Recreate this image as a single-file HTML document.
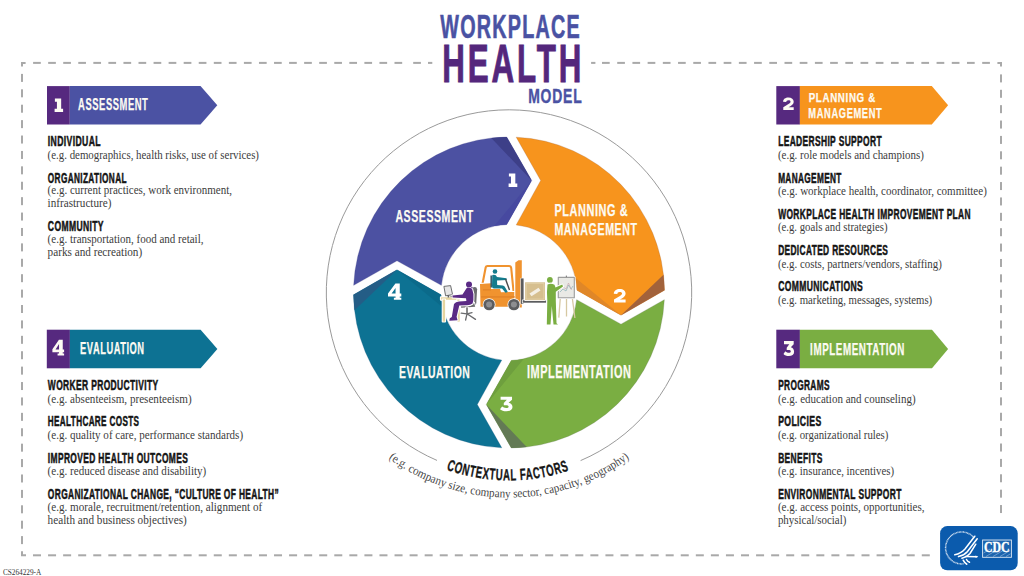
<!DOCTYPE html>
<html><head><meta charset="utf-8"><style>
html,body{margin:0;padding:0;background:#fff;width:1024px;height:576px;overflow:hidden}
svg{display:block}
</style></head><body>
<svg width="1024" height="576" viewBox="0 0 1024 576">
<rect width="1024" height="576" fill="#fff"/>
<path d="M21.0,66.5 V61.9 H25.6 V63.9 H23.0 V66.5 Z" fill="#a9a9a9"/>
<path d="M1002.0,66.5 V61.9 H997.4 V63.9 H1000.0 V66.5 Z" fill="#a9a9a9"/>
<path d="M21.0,551.3 V556.3 H26.0 V554.3 H23.0 V551.3 Z" fill="#a9a9a9"/>
<rect x="33.10" y="61.90" width="7.70" height="2" fill="#a9a9a9"/>
<rect x="48.16" y="61.90" width="7.70" height="2" fill="#a9a9a9"/>
<rect x="63.22" y="61.90" width="7.70" height="2" fill="#a9a9a9"/>
<rect x="78.27" y="61.90" width="7.70" height="2" fill="#a9a9a9"/>
<rect x="93.33" y="61.90" width="7.70" height="2" fill="#a9a9a9"/>
<rect x="108.39" y="61.90" width="7.70" height="2" fill="#a9a9a9"/>
<rect x="123.45" y="61.90" width="7.70" height="2" fill="#a9a9a9"/>
<rect x="138.51" y="61.90" width="7.70" height="2" fill="#a9a9a9"/>
<rect x="153.56" y="61.90" width="7.70" height="2" fill="#a9a9a9"/>
<rect x="168.62" y="61.90" width="7.70" height="2" fill="#a9a9a9"/>
<rect x="183.68" y="61.90" width="7.70" height="2" fill="#a9a9a9"/>
<rect x="198.74" y="61.90" width="7.70" height="2" fill="#a9a9a9"/>
<rect x="213.80" y="61.90" width="7.70" height="2" fill="#a9a9a9"/>
<rect x="228.85" y="61.90" width="7.70" height="2" fill="#a9a9a9"/>
<rect x="243.91" y="61.90" width="7.70" height="2" fill="#a9a9a9"/>
<rect x="258.97" y="61.90" width="7.70" height="2" fill="#a9a9a9"/>
<rect x="274.03" y="61.90" width="7.70" height="2" fill="#a9a9a9"/>
<rect x="289.09" y="61.90" width="7.70" height="2" fill="#a9a9a9"/>
<rect x="304.14" y="61.90" width="7.70" height="2" fill="#a9a9a9"/>
<rect x="319.20" y="61.90" width="7.70" height="2" fill="#a9a9a9"/>
<rect x="334.26" y="61.90" width="7.70" height="2" fill="#a9a9a9"/>
<rect x="349.32" y="61.90" width="7.70" height="2" fill="#a9a9a9"/>
<rect x="364.38" y="61.90" width="7.70" height="2" fill="#a9a9a9"/>
<rect x="379.43" y="61.90" width="7.70" height="2" fill="#a9a9a9"/>
<rect x="394.49" y="61.90" width="7.70" height="2" fill="#a9a9a9"/>
<rect x="413.20" y="61.90" width="7.70" height="2" fill="#a9a9a9"/>
<rect x="428.00" y="61.90" width="4.30" height="2" fill="#a9a9a9"/>
<rect x="591.10" y="61.90" width="4.30" height="2" fill="#a9a9a9"/>
<rect x="602.00" y="61.90" width="7.70" height="2" fill="#a9a9a9"/>
<rect x="617.21" y="61.90" width="7.70" height="2" fill="#a9a9a9"/>
<rect x="632.42" y="61.90" width="7.70" height="2" fill="#a9a9a9"/>
<rect x="647.62" y="61.90" width="7.70" height="2" fill="#a9a9a9"/>
<rect x="662.83" y="61.90" width="7.70" height="2" fill="#a9a9a9"/>
<rect x="678.04" y="61.90" width="7.70" height="2" fill="#a9a9a9"/>
<rect x="693.25" y="61.90" width="7.70" height="2" fill="#a9a9a9"/>
<rect x="708.46" y="61.90" width="7.70" height="2" fill="#a9a9a9"/>
<rect x="723.66" y="61.90" width="7.70" height="2" fill="#a9a9a9"/>
<rect x="738.87" y="61.90" width="7.70" height="2" fill="#a9a9a9"/>
<rect x="754.08" y="61.90" width="7.70" height="2" fill="#a9a9a9"/>
<rect x="769.29" y="61.90" width="7.70" height="2" fill="#a9a9a9"/>
<rect x="784.50" y="61.90" width="7.70" height="2" fill="#a9a9a9"/>
<rect x="799.70" y="61.90" width="7.70" height="2" fill="#a9a9a9"/>
<rect x="814.91" y="61.90" width="7.70" height="2" fill="#a9a9a9"/>
<rect x="830.12" y="61.90" width="7.70" height="2" fill="#a9a9a9"/>
<rect x="845.33" y="61.90" width="7.70" height="2" fill="#a9a9a9"/>
<rect x="860.54" y="61.90" width="7.70" height="2" fill="#a9a9a9"/>
<rect x="875.74" y="61.90" width="7.70" height="2" fill="#a9a9a9"/>
<rect x="890.95" y="61.90" width="7.70" height="2" fill="#a9a9a9"/>
<rect x="906.16" y="61.90" width="7.70" height="2" fill="#a9a9a9"/>
<rect x="921.37" y="61.90" width="7.70" height="2" fill="#a9a9a9"/>
<rect x="936.58" y="61.90" width="7.70" height="2" fill="#a9a9a9"/>
<rect x="951.78" y="61.90" width="7.70" height="2" fill="#a9a9a9"/>
<rect x="966.99" y="61.90" width="7.70" height="2" fill="#a9a9a9"/>
<rect x="982.20" y="61.90" width="7.70" height="2" fill="#a9a9a9"/>
<rect x="33.00" y="554.30" width="8.00" height="2" fill="#a9a9a9"/>
<rect x="48.06" y="554.30" width="8.00" height="2" fill="#a9a9a9"/>
<rect x="63.13" y="554.30" width="8.00" height="2" fill="#a9a9a9"/>
<rect x="78.19" y="554.30" width="8.00" height="2" fill="#a9a9a9"/>
<rect x="93.26" y="554.30" width="8.00" height="2" fill="#a9a9a9"/>
<rect x="108.32" y="554.30" width="8.00" height="2" fill="#a9a9a9"/>
<rect x="123.38" y="554.30" width="8.00" height="2" fill="#a9a9a9"/>
<rect x="138.45" y="554.30" width="8.00" height="2" fill="#a9a9a9"/>
<rect x="153.51" y="554.30" width="8.00" height="2" fill="#a9a9a9"/>
<rect x="168.58" y="554.30" width="8.00" height="2" fill="#a9a9a9"/>
<rect x="183.64" y="554.30" width="8.00" height="2" fill="#a9a9a9"/>
<rect x="198.70" y="554.30" width="8.00" height="2" fill="#a9a9a9"/>
<rect x="213.77" y="554.30" width="8.00" height="2" fill="#a9a9a9"/>
<rect x="228.83" y="554.30" width="8.00" height="2" fill="#a9a9a9"/>
<rect x="243.90" y="554.30" width="8.00" height="2" fill="#a9a9a9"/>
<rect x="258.96" y="554.30" width="8.00" height="2" fill="#a9a9a9"/>
<rect x="274.02" y="554.30" width="8.00" height="2" fill="#a9a9a9"/>
<rect x="289.09" y="554.30" width="8.00" height="2" fill="#a9a9a9"/>
<rect x="304.15" y="554.30" width="8.00" height="2" fill="#a9a9a9"/>
<rect x="319.22" y="554.30" width="8.00" height="2" fill="#a9a9a9"/>
<rect x="334.28" y="554.30" width="8.00" height="2" fill="#a9a9a9"/>
<rect x="349.34" y="554.30" width="8.00" height="2" fill="#a9a9a9"/>
<rect x="364.41" y="554.30" width="8.00" height="2" fill="#a9a9a9"/>
<rect x="379.47" y="554.30" width="8.00" height="2" fill="#a9a9a9"/>
<rect x="394.54" y="554.30" width="8.00" height="2" fill="#a9a9a9"/>
<rect x="409.60" y="554.30" width="8.00" height="2" fill="#a9a9a9"/>
<rect x="424.66" y="554.30" width="8.00" height="2" fill="#a9a9a9"/>
<rect x="439.73" y="554.30" width="8.00" height="2" fill="#a9a9a9"/>
<rect x="454.79" y="554.30" width="8.00" height="2" fill="#a9a9a9"/>
<rect x="469.86" y="554.30" width="8.00" height="2" fill="#a9a9a9"/>
<rect x="484.92" y="554.30" width="8.00" height="2" fill="#a9a9a9"/>
<rect x="499.98" y="554.30" width="8.00" height="2" fill="#a9a9a9"/>
<rect x="515.05" y="554.30" width="8.00" height="2" fill="#a9a9a9"/>
<rect x="530.11" y="554.30" width="8.00" height="2" fill="#a9a9a9"/>
<rect x="545.18" y="554.30" width="8.00" height="2" fill="#a9a9a9"/>
<rect x="560.24" y="554.30" width="8.00" height="2" fill="#a9a9a9"/>
<rect x="575.30" y="554.30" width="8.00" height="2" fill="#a9a9a9"/>
<rect x="590.37" y="554.30" width="8.00" height="2" fill="#a9a9a9"/>
<rect x="605.43" y="554.30" width="8.00" height="2" fill="#a9a9a9"/>
<rect x="620.50" y="554.30" width="8.00" height="2" fill="#a9a9a9"/>
<rect x="635.56" y="554.30" width="8.00" height="2" fill="#a9a9a9"/>
<rect x="650.62" y="554.30" width="8.00" height="2" fill="#a9a9a9"/>
<rect x="665.69" y="554.30" width="8.00" height="2" fill="#a9a9a9"/>
<rect x="680.75" y="554.30" width="8.00" height="2" fill="#a9a9a9"/>
<rect x="695.82" y="554.30" width="8.00" height="2" fill="#a9a9a9"/>
<rect x="710.88" y="554.30" width="8.00" height="2" fill="#a9a9a9"/>
<rect x="725.94" y="554.30" width="8.00" height="2" fill="#a9a9a9"/>
<rect x="741.01" y="554.30" width="8.00" height="2" fill="#a9a9a9"/>
<rect x="756.07" y="554.30" width="8.00" height="2" fill="#a9a9a9"/>
<rect x="771.14" y="554.30" width="8.00" height="2" fill="#a9a9a9"/>
<rect x="786.20" y="554.30" width="8.00" height="2" fill="#a9a9a9"/>
<rect x="801.26" y="554.30" width="8.00" height="2" fill="#a9a9a9"/>
<rect x="816.33" y="554.30" width="8.00" height="2" fill="#a9a9a9"/>
<rect x="831.39" y="554.30" width="8.00" height="2" fill="#a9a9a9"/>
<rect x="846.46" y="554.30" width="8.00" height="2" fill="#a9a9a9"/>
<rect x="861.52" y="554.30" width="8.00" height="2" fill="#a9a9a9"/>
<rect x="876.58" y="554.30" width="8.00" height="2" fill="#a9a9a9"/>
<rect x="891.65" y="554.30" width="8.00" height="2" fill="#a9a9a9"/>
<rect x="906.71" y="554.30" width="8.00" height="2" fill="#a9a9a9"/>
<rect x="921.78" y="554.30" width="8.00" height="2" fill="#a9a9a9"/>
<rect x="21.00" y="73.90" width="2" height="8.00" fill="#a9a9a9"/>
<rect x="21.00" y="89.31" width="2" height="8.00" fill="#a9a9a9"/>
<rect x="21.00" y="104.71" width="2" height="8.00" fill="#a9a9a9"/>
<rect x="21.00" y="120.12" width="2" height="8.00" fill="#a9a9a9"/>
<rect x="21.00" y="135.53" width="2" height="8.00" fill="#a9a9a9"/>
<rect x="21.00" y="150.94" width="2" height="8.00" fill="#a9a9a9"/>
<rect x="21.00" y="166.34" width="2" height="8.00" fill="#a9a9a9"/>
<rect x="21.00" y="181.75" width="2" height="8.00" fill="#a9a9a9"/>
<rect x="21.00" y="197.16" width="2" height="8.00" fill="#a9a9a9"/>
<rect x="21.00" y="212.56" width="2" height="8.00" fill="#a9a9a9"/>
<rect x="21.00" y="227.97" width="2" height="8.00" fill="#a9a9a9"/>
<rect x="21.00" y="243.38" width="2" height="8.00" fill="#a9a9a9"/>
<rect x="21.00" y="258.78" width="2" height="8.00" fill="#a9a9a9"/>
<rect x="21.00" y="274.19" width="2" height="8.00" fill="#a9a9a9"/>
<rect x="21.00" y="289.60" width="2" height="8.00" fill="#a9a9a9"/>
<rect x="21.00" y="305.00" width="2" height="8.00" fill="#a9a9a9"/>
<rect x="21.00" y="320.41" width="2" height="8.00" fill="#a9a9a9"/>
<rect x="21.00" y="335.82" width="2" height="8.00" fill="#a9a9a9"/>
<rect x="21.00" y="351.23" width="2" height="8.00" fill="#a9a9a9"/>
<rect x="21.00" y="366.63" width="2" height="8.00" fill="#a9a9a9"/>
<rect x="21.00" y="382.04" width="2" height="8.00" fill="#a9a9a9"/>
<rect x="21.00" y="397.45" width="2" height="8.00" fill="#a9a9a9"/>
<rect x="21.00" y="412.85" width="2" height="8.00" fill="#a9a9a9"/>
<rect x="21.00" y="428.26" width="2" height="8.00" fill="#a9a9a9"/>
<rect x="21.00" y="443.67" width="2" height="8.00" fill="#a9a9a9"/>
<rect x="21.00" y="459.08" width="2" height="8.00" fill="#a9a9a9"/>
<rect x="21.00" y="474.48" width="2" height="8.00" fill="#a9a9a9"/>
<rect x="21.00" y="489.89" width="2" height="8.00" fill="#a9a9a9"/>
<rect x="21.00" y="505.30" width="2" height="8.00" fill="#a9a9a9"/>
<rect x="21.00" y="520.70" width="2" height="8.00" fill="#a9a9a9"/>
<rect x="21.00" y="536.11" width="2" height="8.00" fill="#a9a9a9"/>
<rect x="1000.00" y="74.40" width="2" height="8.00" fill="#a9a9a9"/>
<rect x="1000.00" y="89.78" width="2" height="8.00" fill="#a9a9a9"/>
<rect x="1000.00" y="105.16" width="2" height="8.00" fill="#a9a9a9"/>
<rect x="1000.00" y="120.54" width="2" height="8.00" fill="#a9a9a9"/>
<rect x="1000.00" y="135.92" width="2" height="8.00" fill="#a9a9a9"/>
<rect x="1000.00" y="151.30" width="2" height="8.00" fill="#a9a9a9"/>
<rect x="1000.00" y="166.68" width="2" height="8.00" fill="#a9a9a9"/>
<rect x="1000.00" y="182.06" width="2" height="8.00" fill="#a9a9a9"/>
<rect x="1000.00" y="197.44" width="2" height="8.00" fill="#a9a9a9"/>
<rect x="1000.00" y="212.82" width="2" height="8.00" fill="#a9a9a9"/>
<rect x="1000.00" y="228.20" width="2" height="8.00" fill="#a9a9a9"/>
<rect x="1000.00" y="243.58" width="2" height="8.00" fill="#a9a9a9"/>
<rect x="1000.00" y="258.96" width="2" height="8.00" fill="#a9a9a9"/>
<rect x="1000.00" y="274.34" width="2" height="8.00" fill="#a9a9a9"/>
<rect x="1000.00" y="289.72" width="2" height="8.00" fill="#a9a9a9"/>
<rect x="1000.00" y="305.10" width="2" height="8.00" fill="#a9a9a9"/>
<rect x="1000.00" y="320.48" width="2" height="8.00" fill="#a9a9a9"/>
<rect x="1000.00" y="335.86" width="2" height="8.00" fill="#a9a9a9"/>
<rect x="1000.00" y="351.24" width="2" height="8.00" fill="#a9a9a9"/>
<rect x="1000.00" y="366.62" width="2" height="8.00" fill="#a9a9a9"/>
<rect x="1000.00" y="382.00" width="2" height="8.00" fill="#a9a9a9"/>
<rect x="1000.00" y="397.38" width="2" height="8.00" fill="#a9a9a9"/>
<rect x="1000.00" y="412.76" width="2" height="8.00" fill="#a9a9a9"/>
<rect x="1000.00" y="428.14" width="2" height="8.00" fill="#a9a9a9"/>
<rect x="1000.00" y="443.52" width="2" height="8.00" fill="#a9a9a9"/>
<rect x="1000.00" y="458.90" width="2" height="8.00" fill="#a9a9a9"/>
<rect x="1000.00" y="474.28" width="2" height="8.00" fill="#a9a9a9"/>
<rect x="1000.00" y="489.66" width="2" height="8.00" fill="#a9a9a9"/>
<rect x="1000.00" y="505.04" width="2" height="8.00" fill="#a9a9a9"/>
<text x="440.30" y="37.50" font-family='"Liberation Sans", sans-serif' font-weight="bold" font-size="32.30" fill="#4a52a3" stroke="#4a52a3" stroke-width="0.6" textLength="140.50" lengthAdjust="spacingAndGlyphs" letter-spacing="2.0" >WORKPLACE</text>
<text x="442.30" y="82.00" font-family='"Liberation Sans", sans-serif' font-weight="bold" font-size="54.27" fill="#54277c" stroke="#54277c" stroke-width="1.0" textLength="141.90" lengthAdjust="spacingAndGlyphs" letter-spacing="5.0" >HEALTH</text>
<text x="528.20" y="102.90" font-family='"Liberation Sans", sans-serif' font-weight="bold" font-size="20.66" fill="#4a52a3" stroke="#4a52a3" stroke-width="0.4" textLength="54.30" lengthAdjust="spacingAndGlyphs" letter-spacing="1.2" >MODEL</text>
<rect x="47.00" y="86.10" width="22.80" height="38.40" fill="#56297f"/>
<path d="M69.80,86.10 H200.50 L217.30,105.30 L200.50,124.50 H69.80 Z" fill="#4b52a3"/>
<rect x="46.80" y="329.70" width="23.10" height="38.60" fill="#56297f"/>
<path d="M69.90,329.70 H200.60 L217.40,349.00 L200.60,368.30 H69.90 Z" fill="#0d7293"/>
<rect x="776.30" y="86.10" width="23.60" height="38.40" fill="#56297f"/>
<path d="M799.90,86.10 H931.80 L948.10,105.30 L931.80,124.50 H799.90 Z" fill="#f7941d"/>
<rect x="776.30" y="329.70" width="23.60" height="38.60" fill="#56297f"/>
<path d="M799.90,329.70 H932.00 L948.10,349.00 L932.00,368.30 H799.90 Z" fill="#7aae42"/>
<path transform="translate(54.60,98.60) scale(0.9659,0.9643)" d="M0.3,0 H6.8 V10.6 H8.8 V14 H0 V10.6 H2.4 V3.2 H0.3 Z" fill="#fdfbf3" fill-rule="evenodd"/>
<text x="78.12" y="110.47" font-family='"Liberation Sans", sans-serif' font-weight="bold" font-size="15.78" fill="#fdfbf3" stroke="#fdfbf3" stroke-width="0.25" textLength="70.25" lengthAdjust="spacingAndGlyphs" letter-spacing="0.9" >ASSESSMENT</text>
<path transform="translate(52.40,339.70) scale(1.1250,1.1214)" d="M5.8,0 H9.2 V8.7 H10.4 V11.2 H9.2 V12.3 H10.4 V14 H4.6 V12.3 H5.9 V11.2 H0 V8.6 Z M5.9,3.9 L2.8,8.7 H5.9 Z" fill="#fdfbf3" fill-rule="evenodd"/>
<text x="80.12" y="353.98" font-family='"Liberation Sans", sans-serif' font-weight="bold" font-size="15.64" fill="#fdfbf3" stroke="#fdfbf3" stroke-width="0.25" textLength="64.45" lengthAdjust="spacingAndGlyphs" letter-spacing="0.9" >EVALUATION</text>
<path transform="translate(783.10,97.50) scale(0.8833,0.8857)" d="M0,4.9 C0,1.7 2.7,0 6.0,0 C9.6,0 12,1.8 12,4.8 C12,7.2 10.4,8.5 8.2,9.9 L6.2,11.0 H12 V14 H0.2 V11.0 L6.6,7.0 C7.9,6.2 8.4,5.7 8.4,4.8 C8.4,3.7 7.5,3.2 6.0,3.2 C4.4,3.2 3.6,4.0 3.6,5.2 Z" fill="#fdfbf3" fill-rule="evenodd"/>
<text x="808.73" y="101.88" font-family='"Liberation Sans", sans-serif' font-weight="bold" font-size="13.60" fill="#fdfbf3" stroke="#fdfbf3" stroke-width="0.25" textLength="67.15" lengthAdjust="spacingAndGlyphs" letter-spacing="0.9" >PLANNING &amp;</text>
<text x="808.33" y="118.08" font-family='"Liberation Sans", sans-serif' font-weight="bold" font-size="13.75" fill="#fdfbf3" stroke="#fdfbf3" stroke-width="0.25" textLength="74.05" lengthAdjust="spacingAndGlyphs" letter-spacing="0.9" >MANAGEMENT</text>
<path transform="translate(783.50,341.10) scale(1.0000,1.0714)" d="M0.5,0 H10.2 V2.9 L7.3,5.8 C9.3,6.3 10.6,7.9 10.6,9.9 C10.6,12.6 8.4,14 5.4,14 C3.1,14 1.1,13.2 0,12.0 L1.8,9.5 C2.7,10.4 3.9,10.9 5.2,10.9 C6.5,10.9 7.3,10.4 7.3,9.6 C7.3,8.8 6.4,8.3 4.8,8.3 H3.2 V6.2 L5.8,3.0 H0.5 Z" fill="#fdfbf3" fill-rule="evenodd"/>
<text x="810.12" y="354.68" font-family='"Liberation Sans", sans-serif' font-weight="bold" font-size="15.93" fill="#fdfbf3" stroke="#fdfbf3" stroke-width="0.25" textLength="94.75" lengthAdjust="spacingAndGlyphs" letter-spacing="0.9" >IMPLEMENTATION</text>
<text x="47.85" y="146.15" font-family='"Liberation Sans", sans-serif' font-weight="bold" font-size="13.83" fill="#141414" stroke="#141414" stroke-width="0.5" textLength="53.10" lengthAdjust="spacingAndGlyphs" letter-spacing="0.6" >INDIVIDUAL</text>
<text x="47.85" y="182.55" font-family='"Liberation Sans", sans-serif' font-weight="bold" font-size="13.83" fill="#141414" stroke="#141414" stroke-width="0.5" textLength="79.00" lengthAdjust="spacingAndGlyphs" letter-spacing="0.6" >ORGANIZATIONAL</text>
<text x="47.85" y="231.15" font-family='"Liberation Sans", sans-serif' font-weight="bold" font-size="13.83" fill="#141414" stroke="#141414" stroke-width="0.5" textLength="56.10" lengthAdjust="spacingAndGlyphs" letter-spacing="0.6" >COMMUNITY</text>
<text x="47.85" y="389.95" font-family='"Liberation Sans", sans-serif' font-weight="bold" font-size="13.83" fill="#141414" stroke="#141414" stroke-width="0.5" textLength="110.60" lengthAdjust="spacingAndGlyphs" letter-spacing="0.6" >WORKER PRODUCTIVITY</text>
<text x="47.85" y="426.35" font-family='"Liberation Sans", sans-serif' font-weight="bold" font-size="13.83" fill="#141414" stroke="#141414" stroke-width="0.5" textLength="91.50" lengthAdjust="spacingAndGlyphs" letter-spacing="0.6" >HEALTHCARE COSTS</text>
<text x="47.85" y="462.85" font-family='"Liberation Sans", sans-serif' font-weight="bold" font-size="13.83" fill="#141414" stroke="#141414" stroke-width="0.5" textLength="140.30" lengthAdjust="spacingAndGlyphs" letter-spacing="0.6" >IMPROVED HEALTH OUTCOMES</text>
<text x="47.85" y="499.45" font-family='"Liberation Sans", sans-serif' font-weight="bold" font-size="13.83" fill="#141414" stroke="#141414" stroke-width="0.5" textLength="231.20" lengthAdjust="spacingAndGlyphs" letter-spacing="0.6" >ORGANIZATIONAL CHANGE, “CULTURE OF HEALTH”</text>
<text x="47.60" y="158.80" font-family='"Liberation Serif", serif' font-size="11.50" fill="#3c3c3c" textLength="211.40" lengthAdjust="spacingAndGlyphs">(e.g. demographics, health risks, use of services)</text>
<text x="47.60" y="194.20" font-family='"Liberation Serif", serif' font-size="11.50" fill="#3c3c3c" textLength="184.40" lengthAdjust="spacingAndGlyphs">(e.g. current practices, work environment,</text>
<text x="47.60" y="206.80" font-family='"Liberation Serif", serif' font-size="11.50" fill="#3c3c3c" textLength="63.80" lengthAdjust="spacingAndGlyphs">infrastructure)</text>
<text x="47.60" y="243.40" font-family='"Liberation Serif", serif' font-size="11.50" fill="#3c3c3c" textLength="155.90" lengthAdjust="spacingAndGlyphs">(e.g. transportation, food and retail,</text>
<text x="47.60" y="256.40" font-family='"Liberation Serif", serif' font-size="11.50" fill="#3c3c3c" textLength="94.60" lengthAdjust="spacingAndGlyphs">parks and recreation)</text>
<text x="47.60" y="402.80" font-family='"Liberation Serif", serif' font-size="11.50" fill="#3c3c3c" textLength="144.00" lengthAdjust="spacingAndGlyphs">(e.g. absenteeism, presenteeism)</text>
<text x="47.60" y="439.00" font-family='"Liberation Serif", serif' font-size="11.50" fill="#3c3c3c" textLength="195.50" lengthAdjust="spacingAndGlyphs">(e.g. quality of care, performance standards)</text>
<text x="47.60" y="475.10" font-family='"Liberation Serif", serif' font-size="11.50" fill="#3c3c3c" textLength="158.70" lengthAdjust="spacingAndGlyphs">(e.g. reduced disease and disability)</text>
<text x="47.60" y="511.40" font-family='"Liberation Serif", serif' font-size="11.50" fill="#3c3c3c" textLength="214.60" lengthAdjust="spacingAndGlyphs">(e.g. morale, recruitment/retention, alignment of</text>
<text x="47.60" y="524.10" font-family='"Liberation Serif", serif' font-size="11.50" fill="#3c3c3c" textLength="139.20" lengthAdjust="spacingAndGlyphs">health and business objectives)</text>
<text x="778.15" y="146.05" font-family='"Liberation Sans", sans-serif' font-weight="bold" font-size="13.83" fill="#141414" stroke="#141414" stroke-width="0.5" textLength="103.80" lengthAdjust="spacingAndGlyphs" letter-spacing="0.6" >LEADERSHIP SUPPORT</text>
<text x="778.15" y="182.65" font-family='"Liberation Sans", sans-serif' font-weight="bold" font-size="13.83" fill="#141414" stroke="#141414" stroke-width="0.5" textLength="63.60" lengthAdjust="spacingAndGlyphs" letter-spacing="0.6" >MANAGEMENT</text>
<text x="778.15" y="218.65" font-family='"Liberation Sans", sans-serif' font-weight="bold" font-size="13.83" fill="#141414" stroke="#141414" stroke-width="0.5" textLength="192.80" lengthAdjust="spacingAndGlyphs" letter-spacing="0.6" >WORKPLACE HEALTH IMPROVEMENT PLAN</text>
<text x="778.15" y="255.35" font-family='"Liberation Sans", sans-serif' font-weight="bold" font-size="13.83" fill="#141414" stroke="#141414" stroke-width="0.5" textLength="110.10" lengthAdjust="spacingAndGlyphs" letter-spacing="0.6" >DEDICATED RESOURCES</text>
<text x="778.15" y="291.25" font-family='"Liberation Sans", sans-serif' font-weight="bold" font-size="13.83" fill="#141414" stroke="#141414" stroke-width="0.5" textLength="85.00" lengthAdjust="spacingAndGlyphs" letter-spacing="0.6" >COMMUNICATIONS</text>
<text x="778.15" y="390.05" font-family='"Liberation Sans", sans-serif' font-weight="bold" font-size="13.83" fill="#141414" stroke="#141414" stroke-width="0.5" textLength="51.70" lengthAdjust="spacingAndGlyphs" letter-spacing="0.6" >PROGRAMS</text>
<text x="778.15" y="426.45" font-family='"Liberation Sans", sans-serif' font-weight="bold" font-size="13.83" fill="#141414" stroke="#141414" stroke-width="0.5" textLength="43.40" lengthAdjust="spacingAndGlyphs" letter-spacing="0.6" >POLICIES</text>
<text x="778.15" y="462.75" font-family='"Liberation Sans", sans-serif' font-weight="bold" font-size="13.83" fill="#141414" stroke="#141414" stroke-width="0.5" textLength="44.50" lengthAdjust="spacingAndGlyphs" letter-spacing="0.6" >BENEFITS</text>
<text x="778.15" y="499.25" font-family='"Liberation Sans", sans-serif' font-weight="bold" font-size="13.83" fill="#141414" stroke="#141414" stroke-width="0.5" textLength="123.60" lengthAdjust="spacingAndGlyphs" letter-spacing="0.6" >ENVIRONMENTAL SUPPORT</text>
<text x="777.90" y="158.80" font-family='"Liberation Serif", serif' font-size="11.50" fill="#3c3c3c" textLength="146.00" lengthAdjust="spacingAndGlyphs">(e.g. role models and champions)</text>
<text x="777.90" y="195.00" font-family='"Liberation Serif", serif' font-size="11.50" fill="#3c3c3c" textLength="208.90" lengthAdjust="spacingAndGlyphs">(e.g. workplace health, coordinator, committee)</text>
<text x="777.90" y="230.90" font-family='"Liberation Serif", serif' font-size="11.50" fill="#3c3c3c" textLength="109.60" lengthAdjust="spacingAndGlyphs">(e.g. goals and strategies)</text>
<text x="777.90" y="267.60" font-family='"Liberation Serif", serif' font-size="11.50" fill="#3c3c3c" textLength="163.90" lengthAdjust="spacingAndGlyphs">(e.g. costs, partners/vendors, staffing)</text>
<text x="777.90" y="303.50" font-family='"Liberation Serif", serif' font-size="11.50" fill="#3c3c3c" textLength="154.30" lengthAdjust="spacingAndGlyphs">(e.g. marketing, messages, systems)</text>
<text x="777.90" y="402.80" font-family='"Liberation Serif", serif' font-size="11.50" fill="#3c3c3c" textLength="137.70" lengthAdjust="spacingAndGlyphs">(e.g. education and counseling)</text>
<text x="777.90" y="439.40" font-family='"Liberation Serif", serif' font-size="11.50" fill="#3c3c3c" textLength="110.50" lengthAdjust="spacingAndGlyphs">(e.g. organizational rules)</text>
<text x="777.90" y="475.10" font-family='"Liberation Serif", serif' font-size="11.50" fill="#3c3c3c" textLength="116.10" lengthAdjust="spacingAndGlyphs">(e.g. insurance, incentives)</text>
<text x="777.90" y="511.00" font-family='"Liberation Serif", serif' font-size="11.50" fill="#3c3c3c" textLength="146.60" lengthAdjust="spacingAndGlyphs">(e.g. access points, opportunities,</text>
<text x="777.90" y="524.10" font-family='"Liberation Serif", serif' font-size="11.50" fill="#3c3c3c" textLength="68.50" lengthAdjust="spacingAndGlyphs">physical/social)</text>
<text x="2.9" y="575" font-family='"Liberation Serif", serif' font-size="8" fill="#333" textLength="38.4" lengthAdjust="spacingAndGlyphs">CS264229-A</text>
<path d="M353.67,285.30 A155.5,155.5 0 0 1 506.70,137.02 L531.70,180.50 L506.70,224.54 A68.0,68.0 0 0 0 441.38,285.30 L397.00,260.80 Z" fill="#4c51a2" stroke="#3d3f88" stroke-opacity="0.55" stroke-width="0.5"/>
<path d="M491.30,138.01 A155.5,155.5 0 0 1 506.70,137.02 L531.70,180.50 Z" fill="#3d3f88"/>
<path d="M494.30,226.11 L531.70,180.50 L506.70,224.54 A68.0,68.0 0 0 0 494.30,226.11 Z" fill="#4749a0"/>
<path d="M516.20,137.17 A155.5,155.5 0 0 1 664.48,290.20 L621.00,315.20 L576.96,290.20 A68.0,68.0 0 0 0 516.20,224.88 L540.70,180.50 Z" fill="#f7941d" stroke="#a2623b" stroke-opacity="0.55" stroke-width="0.5"/>
<path d="M663.49,274.80 A155.5,155.5 0 0 1 664.48,290.20 L621.00,315.20 Z" fill="#a2623b"/>
<path d="M575.39,277.80 L621.00,315.20 L576.96,290.20 A68.0,68.0 0 0 0 575.39,277.80 Z" fill="#e08728"/>
<path d="M664.33,299.70 A155.5,155.5 0 0 1 511.30,447.98 L486.30,404.50 L511.30,360.46 A68.0,68.0 0 0 0 576.62,299.70 L621.00,324.20 Z" fill="#7aae42" stroke="#637a55" stroke-opacity="0.55" stroke-width="0.5"/>
<path d="M526.70,446.99 A155.5,155.5 0 0 1 511.30,447.98 L486.30,404.50 Z" fill="#637a55"/>
<path d="M523.70,358.89 L486.30,404.50 L511.30,360.46 A68.0,68.0 0 0 0 523.70,358.89 Z" fill="#6e9f3e"/>
<path d="M501.80,447.83 A155.5,155.5 0 0 1 353.52,294.80 L397.00,269.80 L441.04,294.80 A68.0,68.0 0 0 0 501.80,360.12 L477.30,404.50 Z" fill="#0d7293" stroke="#245d86" stroke-opacity="0.55" stroke-width="0.5"/>
<path d="M354.51,310.20 A155.5,155.5 0 0 1 353.52,294.80 L397.00,269.80 Z" fill="#245d86"/>
<path d="M442.61,307.20 L397.00,269.80 L441.04,294.80 A68.0,68.0 0 0 0 442.61,307.20 Z" fill="#0b6a8a"/>
<path d="M437.00,460.41 A182.7,182.7 0 1 1 580.60,460.59" fill="none" stroke="#9a9a9a" stroke-width="1"/>
<text x="395.43" y="222.17" font-family='"Liberation Sans", sans-serif' font-weight="bold" font-size="17.38" fill="#fdfbf3" stroke="#fdfbf3" stroke-width="0.25" textLength="78.25" lengthAdjust="spacingAndGlyphs" letter-spacing="0.9" >ASSESSMENT</text>
<text x="554.42" y="215.88" font-family='"Liberation Sans", sans-serif' font-weight="bold" font-size="17.09" fill="#fdfbf3" stroke="#fdfbf3" stroke-width="0.25" textLength="73.85" lengthAdjust="spacingAndGlyphs" letter-spacing="0.9" >PLANNING &amp;</text>
<text x="554.42" y="234.67" font-family='"Liberation Sans", sans-serif' font-weight="bold" font-size="17.38" fill="#fdfbf3" stroke="#fdfbf3" stroke-width="0.25" textLength="83.15" lengthAdjust="spacingAndGlyphs" letter-spacing="0.9" >MANAGEMENT</text>
<text x="398.93" y="378.27" font-family='"Liberation Sans", sans-serif' font-weight="bold" font-size="17.38" fill="#fdfbf3" stroke="#fdfbf3" stroke-width="0.25" textLength="71.45" lengthAdjust="spacingAndGlyphs" letter-spacing="0.9" >EVALUATION</text>
<text x="526.92" y="378.28" font-family='"Liberation Sans", sans-serif' font-weight="bold" font-size="17.53" fill="#fdfbf3" stroke="#fdfbf3" stroke-width="0.25" textLength="104.55" lengthAdjust="spacingAndGlyphs" letter-spacing="0.9" >IMPLEMENTATION</text>
<path transform="translate(508.60,173.40) scale(0.9886,0.9643)" d="M0.3,0 H6.8 V10.6 H8.8 V14 H0 V10.6 H2.4 V3.2 H0.3 Z" fill="#ffffff" fill-rule="evenodd"/>
<path transform="translate(613.80,288.90) scale(0.9833,0.9714)" d="M0,4.9 C0,1.7 2.7,0 6.0,0 C9.6,0 12,1.8 12,4.8 C12,7.2 10.4,8.5 8.2,9.9 L6.2,11.0 H12 V14 H0.2 V11.0 L6.6,7.0 C7.9,6.2 8.4,5.7 8.4,4.8 C8.4,3.7 7.5,3.2 6.0,3.2 C4.4,3.2 3.6,4.0 3.6,5.2 Z" fill="#ffffff" fill-rule="evenodd"/>
<path transform="translate(500.00,396.70) scale(1.1792,1.0357)" d="M0.5,0 H10.2 V2.9 L7.3,5.8 C9.3,6.3 10.6,7.9 10.6,9.9 C10.6,12.6 8.4,14 5.4,14 C3.1,14 1.1,13.2 0,12.0 L1.8,9.5 C2.7,10.4 3.9,10.9 5.2,10.9 C6.5,10.9 7.3,10.4 7.3,9.6 C7.3,8.8 6.4,8.3 4.8,8.3 H3.2 V6.2 L5.8,3.0 H0.5 Z" fill="#ffffff" fill-rule="evenodd"/>
<path transform="translate(388.00,283.40) scale(1.2788,1.1643)" d="M5.8,0 H9.2 V8.7 H10.4 V11.2 H9.2 V12.3 H10.4 V14 H4.6 V12.3 H5.9 V11.2 H0 V8.6 Z M5.9,3.9 L2.8,8.7 H5.9 Z" fill="#ffffff" fill-rule="evenodd"/>
<defs><path id="arcC" d="M321.0,292.5 A188.0,188.0 0 0 0 697.0,292.5"/><path id="arcS" d="M303.0,292.5 A206.0,206.0 0 0 0 715.0,292.5"/></defs>
<g stroke="#fff" stroke-width="2" stroke-linejoin="round" paint-order="stroke">
<rect x="440.9" y="297.3" width="19.4" height="2.5" fill="#e6d5a0"/>
<rect x="442.7" y="299.5" width="2.4" height="22.1" fill="#e6d5a0"/>
<rect x="457.3" y="299.5" width="2.4" height="22.1" fill="#e6d5a0"/>
<path d="M443.9,286.4 L450.6,285.6 L452.6,294.6 L445.6,295.8 Z" fill="#e6e6e6" stroke-width="1.6"/>
<path d="M443.9,286.4 L450.6,285.6 L452.6,294.6 L445.6,295.8 Z" fill="none" stroke="#5f6062" stroke-width="0.9" paint-order="normal"/>
<rect x="447.6" y="295.2" width="1.6" height="2.3" fill="#5f6062" stroke-width="0"/>
<rect x="450.6" y="295.9" width="6.5" height="1.3" fill="#4a4a4c" stroke-width="0"/>
<path d="M472.4,287.6 Q476.6,286 477.1,289.2 L476.3,303 Q475.6,306.2 472.8,306.3 Z" fill="#6a6b6e"/>
<path d="M460.3,303.6 L474,302.4 L475.2,306.8 L461.2,307.7 Z" fill="#6a6b6e"/>
<rect x="466.2" y="307.4" width="1.6" height="6.4" fill="#6a6b6e"/>
<path d="M467,313.8 L461.2,313.2 M467,313.8 L465.6,320 M467,313.8 L475.5,319.4 M467,313.8 L472,312.6" fill="none" stroke="#6a6b6e" stroke-width="1.3" stroke-linecap="round" paint-order="normal"/>
<path d="M470.5,285.5 Q473.5,286.5 472.3,290 L470.8,289.6 Z" fill="#5a2a85" stroke-width="0"/>
<path d="M466.5,288.3 L472.2,289.2 Q474.2,294 473.4,300 L472.6,303.6 Q470,305.6 466,305.3 L459.3,305.5 L456.6,316.8 L457.6,320.3 L449.3,320.7 L449.8,318.3 L451.8,317.0 L454.0,304.0 Q455.6,301.5 459,301.4 L466.4,300.9 L466.0,298.3 L452.6,297.6 L452.4,295.6 L462.5,294.4 Q464.6,291.4 466.5,288.3 Z" fill="#5a2a85"/>
<circle cx="469" cy="284.5" r="3.0" fill="#5a2a85" stroke-width="1.2"/>
<path d="M467.2,287.5 L471.5,288.2 L471.8,290 L466.4,289.6 Z" fill="#5a2a85" stroke-width="0"/>
<path d="M482.3,285 L485.7,267.2 Q486,266 487.5,266 L509,266 Q511,266 511.2,268 L513.5,291" fill="none" stroke="#f0932f" stroke-width="2.1" paint-order="normal"/>
<path d="M480,284 L491,283.3 L491,289 L500,289 L501,292.2 L516,292 L516,306.7 L480.5,306.7 Z" fill="#f0932f"/>
<path d="M515.3,262.5 L518.5,260.2 L521.8,260.2 L521.8,307.5 L515.3,307.5 Z" fill="#f0932f"/>
<rect x="520.8" y="278.4" width="2.8" height="25.5" fill="#5b5c5e" stroke-width="1"/>
<rect x="481" y="296.5" width="34" height="0.9" fill="#d97a22" stroke-width="0"/>
<rect x="483" y="289.5" width="8" height="0.8" fill="#d97a22" stroke-width="0"/>
<circle cx="489.1" cy="304.6" r="5.7" fill="#5c5d60" stroke-width="1.5"/>
<circle cx="489.1" cy="304.6" r="3" fill="#8d8e91" stroke-width="0"/>
<circle cx="513.9" cy="304.6" r="5.7" fill="#5c5d60" stroke-width="1.5"/>
<circle cx="513.9" cy="304.6" r="3" fill="#8d8e91" stroke-width="0"/>
<rect x="490.4" y="275.5" width="1.8" height="12" fill="#3c5f6e" stroke-width="0"/>
<circle cx="495" cy="271.5" r="2.3" fill="#147c8d" stroke-width="0"/>
<path d="M492.3,275 Q496,274 497,277 L506.5,278.2 L506.8,280 L497,280.5 L497.2,285 L503,285.5 Q505,286 505.5,288 L507.8,292 L505.5,292.8 L502,288.5 L494,288.6 Q492,288.5 492,286 Z" fill="#147c8d" stroke-width="0"/>
<path d="M505.5,279 L509.5,290" stroke="#4a4b4d" stroke-width="1.4" fill="none" paint-order="normal"/>
<rect x="522.7" y="300.2" width="23.5" height="2.5" fill="#5b5c5e" stroke-width="1.5"/>
<rect x="525.1" y="282.3" width="19.9" height="17.9" fill="#d6bf8f" stroke-width="1.5"/>
<rect x="526.2" y="283.4" width="17.7" height="15.7" fill="none" stroke="#e5d3ab" stroke-width="0.8" paint-order="normal"/>
<path d="M529.5,293.5 L538.5,287.8 L540.5,290.5 L531.5,296.2 Z" fill="#f4efe4" stroke-width="0"/>
<path d="M560.3,298 L558.8,317.6 M566.5,298 L566.5,316.5 M572.3,298 L574.9,318" stroke="#d6c8a2" stroke-width="1.3" fill="none"/>
<rect x="557.9" y="277.0" width="16.8" height="21.1" fill="#e9e9e5" stroke-width="1.6"/>
<rect x="558.3" y="277.4" width="16" height="20.3" fill="none" stroke="#9d9d9d" stroke-width="1.1" paint-order="normal"/>
<path d="M560,292 L563,289 L566,291 L568.5,285 L571,289 L573,286" fill="none" stroke="#7ba8b0" stroke-width="0.6" paint-order="normal"/>
<path d="M560,290 L563,287 L566,289 L568.5,283 L571.5,290" fill="none" stroke="#c9a0a8" stroke-width="0.6" paint-order="normal"/>
<rect x="565.8" y="275.6" width="1.2" height="1.6" fill="#888" stroke-width="0"/>
<circle cx="549.9" cy="279.9" r="2.9" fill="#7aae42"/>
<path d="M547.5,284.5 Q551,283 554.5,284.8 L555.5,287.5 L562.3,284.6 L563.0,286.6 L555.8,291.8 L555.8,300.5 L556.5,323.2 L558,324.5 L553.5,324.5 L551.8,306 L550.5,324.5 L546.8,324.5 L547.3,300.5 Q546.5,292 547.5,284.5 Z" fill="#7aae42"/>
</g>
<text font-family='"Liberation Sans", sans-serif' font-weight="bold" font-size="15.99" fill="#141414" stroke="#141414" stroke-width="0.35" letter-spacing="1.1"><textPath href="#arcC" startOffset="231.14" textLength="125.47" lengthAdjust="spacingAndGlyphs">CONTEXTUAL FACTORS</textPath></text>
<defs><path id="arcS2" d="M304.0,292.5 A205.0,205.0 0 0 0 714.0,292.5"/></defs>
<text font-family='"Liberation Serif", serif' font-size="12.2" fill="#474747"><textPath href="#arcS2" startOffset="193.20" textLength="257.62" lengthAdjust="spacingAndGlyphs">(e.g. company size, company sector, capacity, geography)</textPath></text>
<rect x="940.1" y="526.1" width="77.6" height="44.2" rx="7.2" ry="7.2" fill="#0b5bad"/>
<rect x="982.6" y="540.0" width="28.8" height="17.3" fill="#1c64ae" stroke="#dfe9f5" stroke-width="0.9"/>
<path d="M983.5,553 L990,549 M986,556.5 L996,550.5 M993,556.5 L1003,550.5 M1000,556.5 L1010,550.5 M1006,556.5 L1010.5,553.8" stroke="#9fc0e3" stroke-width="0.6"/>
<text x="984" y="552.3" font-family='"Liberation Serif", serif' font-weight="bold" font-size="14.2" fill="#fff" stroke="#fff" stroke-width="0.4" textLength="25.6" lengthAdjust="spacingAndGlyphs">CDC</text>
<path d="M963.5,563.8 A16,16 0 1 1 973.5,537.2" fill="none" stroke="#d5e3f3" stroke-width="1.5" stroke-dasharray="0.9 0.5"/>
<g fill="none" stroke="#fff" stroke-width="1.55" stroke-linecap="round"><path d="M954.8,554.8 Q961,553.5 965,549 L974.8,536.2"/><path d="M958.5,556.6 Q964,555.5 967.5,551.5 L977.2,538.8"/><path d="M962,558.2 Q967,557 970,553.5 L975.8,544.2"/><path d="M965.5,556.6 L976.8,556.8"/><path d="M963.2,560.2 Q964.5,563 966.8,564.2"/><path d="M966.5,559.5 Q967.5,561.5 969.5,562.3"/></g>
<path d="M975.5,555.6 L978.3,556.8 L975.5,557.8 Z" fill="#fff"/>
</svg></body></html>
